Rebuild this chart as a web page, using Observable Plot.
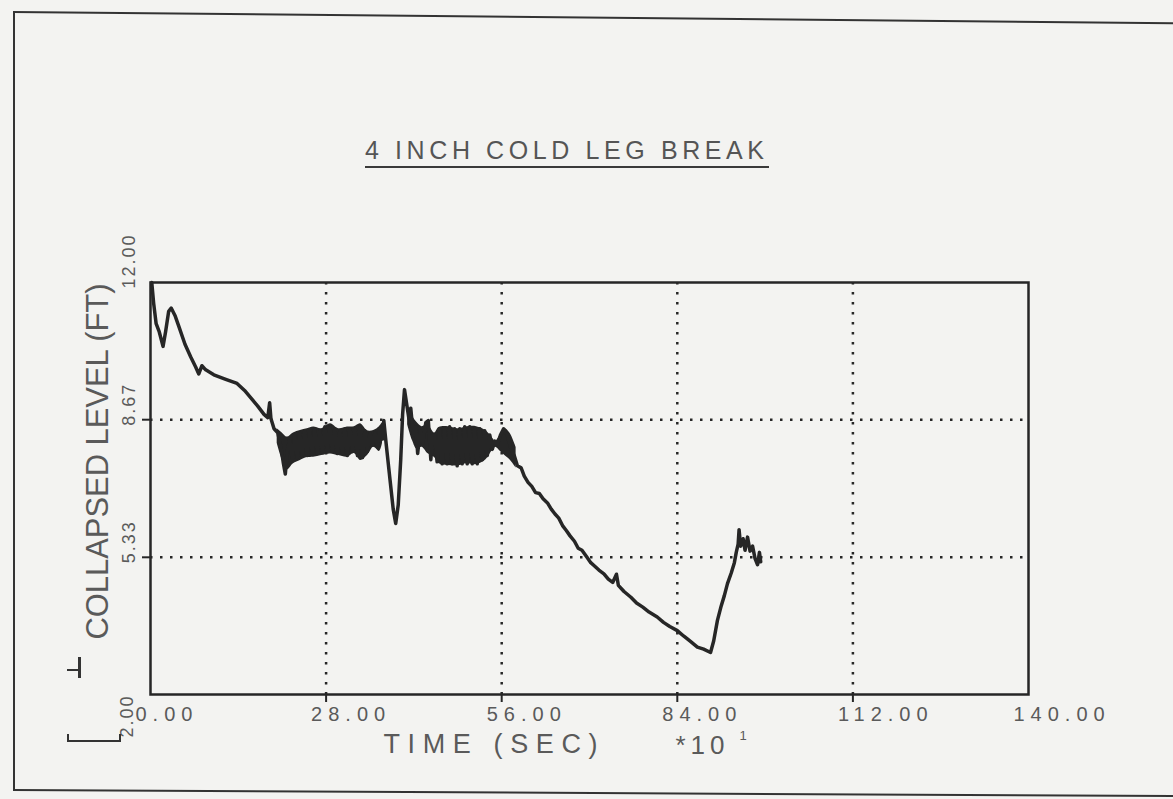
<!DOCTYPE html>
<html><head><meta charset="utf-8">
<script src="https://cdn.jsdelivr.net/npm/d3@7"></script>
<script src="https://cdn.jsdelivr.net/npm/@observablehq/plot@0.6"></script>
<style>
html,body{margin:0;padding:0;background:#f3f3f1;}
#wrap{position:relative;width:1173px;height:799px;overflow:hidden;background:#f3f3f1;}
#wrap svg{position:absolute;left:0;top:0;}
#title{position:absolute;left:365px;top:137px;font-family:"Liberation Sans",Arial,sans-serif;font-size:25px;letter-spacing:4.6px;color:#555;border-bottom:2.5px solid #3a3a3a;padding-bottom:3px;line-height:26px;white-space:nowrap;z-index:2}
.deco{position:absolute;border-color:#333;border-style:solid;border-width:0;z-index:2;transform-origin:0 0}
</style></head><body>
<div id="wrap">
<div id="title">4 INCH COLD LEG BREAK</div>
<div class="deco" style="left:13px;top:11px;width:1200px;height:0;border-top-width:2.5px;transform:skewY(0.55deg);"></div>
<div class="deco" style="left:13px;top:11px;width:0;height:780px;border-left-width:2.5px;"></div>
<div class="deco" style="left:13px;top:789px;width:1200px;height:0;border-top-width:2.5px;transform:skewY(0.3deg);"></div>
<div class="deco" style="left:67px;top:669px;width:12px;height:0;border-top-width:2.5px;"></div>
<div class="deco" style="left:78px;top:657px;width:0;height:21px;border-left-width:3px;"></div>
<div class="deco" style="left:67px;top:734px;width:50px;height:6px;border-width:0 2.5px 2.5px 2.5px;"></div>
</div>
<script>
// Axis ticks and grid
const xTickValues = [0, 28, 56, 84, 112, 140];
const xGridValues = [28, 56, 84, 112];
const yTickValues = [5.33, 8.67, 12];
const yBottomTick = [2];
const yGridValues = [5.33, 8.67];

// Collapsed level trace: time (s x10) and level (ft)
const traceTime = [
  0.2, 0.5, 0.9, 1.4, 2.0, 2.4, 2.9, 3.3, 3.9, 4.6, 5.5, 6.4, 7.2, 7.7, 8.2, 8.8, 10.1, 12.0, 13.8, 15.0,
  16.0, 17.1, 18.1, 18.7, 19.0, 19.2, 19.7, 20.3, 20.8, 21.2, 21.5, 21.8,
  22.2, 22.6, 23.0, 23.4, 23.8, 24.2, 24.6, 25.0, 25.4, 25.8, 26.2, 26.6, 27.0, 27.4, 27.8, 28.2, 28.6, 29.0,
  29.4, 29.8, 30.2, 30.6, 31.0, 31.4, 31.8, 32.2, 32.6, 33.0, 33.4, 33.8, 34.2, 34.6, 35.0, 35.4, 35.8, 36.2,
  36.6, 37.0, 37.2,
  37.6, 38.2, 38.7, 39.1, 39.5, 39.9, 40.2, 40.5, 40.8, 41.2, 41.5, 41.9, 42.3, 42.6, 43.0, 43.4, 43.9, 44.3,
  44.7, 45.0,
  45.3, 45.7, 46.1, 46.5, 46.9, 47.3, 47.7, 48.1, 48.5, 48.9, 49.3, 49.7, 50.1, 50.5, 50.9, 51.3, 51.7, 52.1,
  52.5, 52.9, 53.3, 53.7, 54.1, 54.5, 54.9, 55.3, 55.8, 56.3,
  56.9, 57.5, 58.0, 58.5, 59.1, 59.6, 60.2, 60.8, 61.4, 62.0, 62.6, 63.3, 63.9, 64.5, 65.1, 65.7, 66.3, 66.9,
  67.6, 68.2, 68.8, 69.6, 70.2, 70.8, 71.5, 72.3, 73.0, 73.7, 74.3, 74.6, 75.5, 76.6, 77.5, 78.5, 79.5, 80.8,
  81.8, 82.8, 84.0, 85.0, 86.0, 87.2, 88.2, 89.3, 89.8, 90.4, 91.0, 91.5, 92.0, 92.6, 93.1, 93.4, 93.7, 93.85,
  94.1, 94.5, 94.8, 95.2, 95.6, 96.0, 96.4, 96.8, 97.1, 97.3
];
const traceLevel = [
  12.0, 11.5, 11.0, 10.8, 10.45, 10.8, 11.3, 11.38, 11.2, 10.9, 10.5, 10.2, 9.95, 9.78, 9.98, 9.88, 9.76, 9.65, 9.55, 9.38,
  9.2, 9.0, 8.8, 8.72, 9.08, 8.7, 8.45, 8.35, 8.0, 7.6, 7.35, 7.9,
  8.2, 7.7, 8.3, 7.75, 8.35, 7.8, 8.4, 7.8, 8.4, 7.85, 8.45, 7.85, 8.4, 7.9, 8.5, 7.9, 8.5, 7.9,
  8.45, 7.85, 8.4, 7.85, 8.45, 7.8, 8.45, 7.9, 8.45, 7.8, 8.5, 7.75, 8.4, 7.9, 8.35, 8.05, 8.35, 8.0,
  8.45, 8.2, 8.65,
  8.05, 7.2, 6.5, 6.15, 6.6, 7.7, 8.8, 9.4, 9.1, 8.7, 8.95, 8.3, 8.5, 7.85, 8.4, 8.1, 8.6, 8.65,
  7.7, 8.3,
  8.3, 7.65, 8.45, 7.6, 8.45, 7.6, 8.5, 7.6, 8.45, 7.55, 8.45, 7.6, 8.5, 7.6, 8.5, 7.6, 8.45, 7.6,
  8.45, 7.7, 8.4, 7.8, 8.3, 7.95, 8.15, 8.05, 8.3, 8.45,
  8.3, 7.95, 7.8, 7.55, 7.5, 7.3, 7.15, 7.05, 6.9, 6.88, 6.75, 6.65, 6.5, 6.38, 6.28, 6.1, 5.98, 5.85,
  5.72, 5.55, 5.5, 5.33, 5.2, 5.12, 5.02, 4.93, 4.8, 4.72, 4.92, 4.65, 4.5, 4.36, 4.22, 4.12, 4.0, 3.88,
  3.75, 3.65, 3.55, 3.42, 3.3, 3.15, 3.1, 3.02, 3.3, 3.8, 4.15, 4.4, 4.69, 4.95, 5.2, 5.45, 5.65, 6.0,
  5.6, 5.78, 5.5, 5.82, 5.48, 5.6, 5.3, 5.15, 5.45, 5.22
];

// Envelope of the dense oscillation bands
const band1Time = [20.2, 21.0, 21.8, 22.8, 23.9, 25.0, 26.0, 27.3, 28.7, 30.0, 31.4, 32.5, 33.5, 34.6, 35.6, 36.5, 37.0];
const band1Lo   = [8.1, 7.7, 7.45, 7.6, 7.68, 7.75, 7.76, 7.8, 7.84, 7.8, 7.76, 7.85, 7.68, 7.8, 8.0, 7.9, 8.1];
const band1Hi   = [8.45, 8.35, 8.25, 8.35, 8.41, 8.45, 8.49, 8.45, 8.57, 8.45, 8.49, 8.5, 8.57, 8.4, 8.41, 8.5, 8.6];
const band2Time = [41.0, 41.8, 42.5, 43.3, 44.2, 45.3, 46.0, 47.5, 49.0, 50.5, 52.0, 53.5, 54.4, 55.0, 55.8, 56.5, 57.3, 58.3];
const band2Lo   = [8.55, 8.15, 7.95, 8.0, 7.85, 7.75, 7.6, 7.56, 7.55, 7.6, 7.58, 7.7, 7.9, 8.0, 7.9, 7.8, 7.7, 7.5];
const band2Hi   = [9.0, 8.75, 8.6, 8.5, 8.55, 8.35, 8.48, 8.5, 8.45, 8.5, 8.5, 8.4, 8.25, 8.15, 8.3, 8.45, 8.35, 8.0];

const trace = traceTime.map((t, i) => ({t, level: traceLevel[i]}));
const band = [
  ...band1Time.map((t, i) => ({seg: "a", t, lo: band1Lo[i], hi: band1Hi[i]})),
  ...band2Time.map((t, i) => ({seg: "b", t, lo: band2Lo[i], hi: band2Hi[i]}))
];

const ink = "#262626";
const grey = "#5a5a5a";
const font = "'Liberation Sans', Arial, sans-serif";

const chart = Plot.plot({
  width: 1173, height: 799,
  marginLeft: 150, marginRight: 145, marginTop: 282, marginBottom: 105,
  x: {domain: [0, 140]},
  y: {domain: [2, 12]},
  style: {background: "transparent", fontFamily: font, overflow: "visible"},
  marks: [
    Plot.gridX(xGridValues, {stroke: ink, strokeOpacity: 1, strokeWidth: 2.5, strokeDasharray: "2.5,7.5"}),
    Plot.gridY(yGridValues, {stroke: ink, strokeOpacity: 1, strokeWidth: 2.5, strokeDasharray: "2.5,7.5"}),
    Plot.areaY(band, {x: "t", y1: "lo", y2: "hi", z: "seg", fill: ink, curve: "catmull-rom"}),
    Plot.line(trace, {x: "t", y: "level", stroke: ink, strokeWidth: 3.5, strokeLinejoin: "round"}),
    Plot.frame({stroke: ink, strokeWidth: 2.5}),
    Plot.axisX({ticks: xGridValues, tickSize: 8, tickFormat: () => "", stroke: ink, strokeWidth: 2, label: null}),
    Plot.axisY({ticks: yGridValues, tickSize: 8, tickFormat: () => "", stroke: ink, strokeWidth: 2, label: null}),
    Plot.text(xTickValues, {x: d => d, frameAnchor: "bottom", dx: -15, dy: 26, textAnchor: "start",
      text: d => d.toFixed(2), fontSize: 20, fill: grey}),
    Plot.text(yTickValues, {y: d => d, frameAnchor: "left", dx: -21, dy: 6, rotate: -90, textAnchor: "start",
      text: d => d.toFixed(2), fontSize: 18, fill: grey}),
    Plot.text(yBottomTick, {y: d => d, frameAnchor: "left", dx: -23, dy: 43, rotate: -90, textAnchor: "start",
      text: d => d.toFixed(2), fontSize: 18, fill: grey}),
    Plot.text(["COLLAPSED LEVEL (FT)"], {frameAnchor: "left", dx: -53, dy: -27, rotate: -90, textAnchor: "middle",
      text: d => d, fontSize: 32, fill: grey}),
    Plot.text(["TIME (SEC)"], {frameAnchor: "bottom-left", dx: 233, dy: 58, textAnchor: "start",
      text: d => d, fontSize: 27, fill: grey}),
    Plot.text(["*10"], {frameAnchor: "bottom-left", dx: 525, dy: 59, textAnchor: "start",
      text: d => d, fontSize: 26, fill: grey}),
    Plot.text(["1"], {frameAnchor: "bottom-left", dx: 589, dy: 45, textAnchor: "start",
      text: d => d, fontSize: 13, fill: grey})
  ]
});
document.getElementById("wrap").appendChild(chart);

// Plotter-style lettering: widen spacing of the numeric labels
d3.select(chart).selectAll("text").each(function() {
  const s = this.textContent;
  const tr = this.getAttribute("transform") || "";
  const el = d3.select(this);
  if (/^\d+\.\d\d$/.test(s)) el.style("letter-spacing", tr.includes("rotate") ? "2px" : "6px");
  else if (s === "TIME (SEC)") el.attr("textLength", 214).attr("lengthAdjust", "spacing");
  else if (s === "*10") el.style("letter-spacing", "5px");
  else if (s === "COLLAPSED LEVEL (FT)") el.attr("textLength", 356).attr("lengthAdjust", "spacingAndGlyphs");
});
</script>
</body></html>
